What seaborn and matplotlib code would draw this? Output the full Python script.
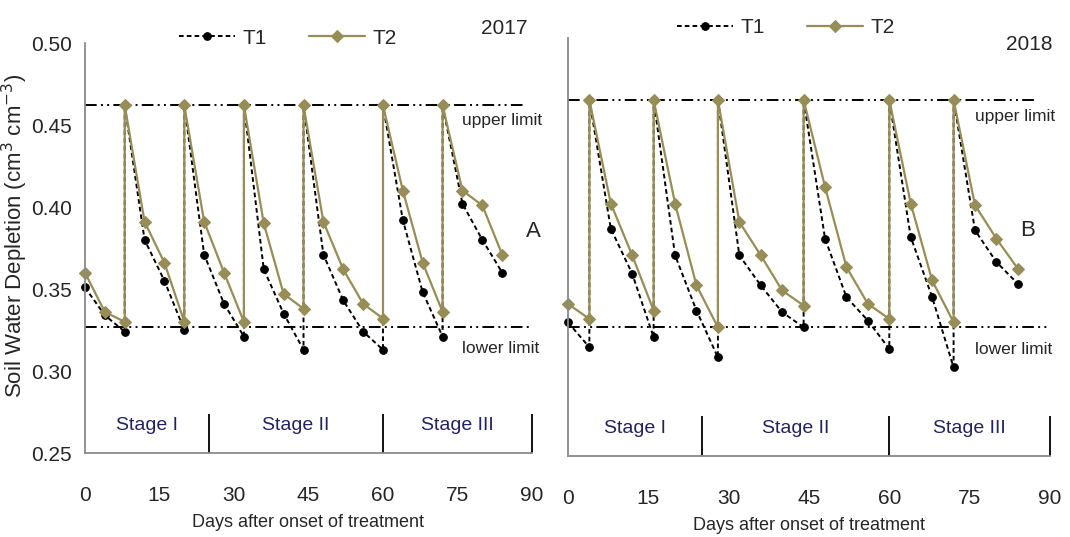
"""
Soil water depletion under two irrigation treatments, 2017 and 2018.
"""

import matplotlib
matplotlib.use('Agg')
import matplotlib.pyplot as plt
import seaborn as sns
import pandas as pd
from matplotlib.ticker import MultipleLocator

# 2017: repeated days are irrigation events (jump up to the upper limit)
days_2017 = [0, 4, 8, 8, 12, 16, 20, 20, 24, 28, 32, 32, 36, 40, 44, 44,
             48, 52, 56, 60, 60, 64, 68, 72, 72, 76, 80, 84]
t1_2017 = [0.351, 0.334, 0.324, 0.462, 0.380, 0.355, 0.325, 0.462,
           0.371, 0.341, 0.321, 0.462, 0.362, 0.335, 0.313, 0.462,
           0.371, 0.343, 0.324, 0.313, 0.462, 0.392, 0.348, 0.321, 0.462,
           0.402, 0.380, 0.360]
t2_2017 = [0.360, 0.336, 0.330, 0.462, 0.391, 0.366, 0.330, 0.462,
           0.391, 0.360, 0.330, 0.462, 0.390, 0.347, 0.338, 0.462,
           0.391, 0.362, 0.341, 0.332, 0.462, 0.410, 0.366, 0.336, 0.462,
           0.410, 0.401, 0.371]

# 2018
days_2018 = [0, 4, 4, 8, 12, 16, 16, 20, 24, 28, 28, 32, 36, 40, 44, 44,
             48, 52, 56, 60, 60, 64, 68, 72, 72, 76, 80, 84]
t1_2018 = [0.330, 0.315, 0.463, 0.386, 0.359, 0.321, 0.463,
           0.370, 0.337, 0.309, 0.463, 0.370, 0.352, 0.336, 0.327, 0.463,
           0.380, 0.345, 0.331, 0.314, 0.463, 0.381, 0.345, 0.303, 0.463,
           0.385, 0.366, 0.353]
t2_2018 = [0.341, 0.332, 0.463, 0.401, 0.370, 0.337, 0.463,
           0.401, 0.352, 0.327, 0.463, 0.390, 0.370, 0.349, 0.340, 0.463,
           0.411, 0.363, 0.341, 0.332, 0.463, 0.401, 0.355, 0.330, 0.463,
           0.400, 0.380, 0.362]

years = ['2017', '2018']
panel_letters = ['A', 'B']
upper_limits = [0.462, 0.463]
lower_limits = [0.327, 0.327]

stage_names = ['Stage I', 'Stage II', 'Stage III']
stage_bounds = [0, 25, 60, 90]
x_ticks = [0, 15, 30, 45, 60, 75, 90]
y_ticks = [0.25, 0.30, 0.35, 0.40, 0.45, 0.50]

T1_COLOR = 'black'
T2_COLOR = '#978d56'
AXIS_GRAY = '#8a8a8a'
STAGE_COLOR = '#23235e'
LIMIT_DASH = (6, 2.2, 1, 2.2, 1, 2.2)
FS = 15

sns.set_style('white')
plt.rcParams['font.family'] = ['Liberation Sans', 'DejaVu Sans']


def draw_panel(ax, days, t1, t2, year, letter, upper, lower, layout, show_ylabels):
    df = pd.DataFrame({'day': days, 'T1': t1, 'T2': t2})

    sns.lineplot(data=df, x='day', y='T1', ax=ax, estimator=None, sort=False,
                 color=T1_COLOR, lw=1.4, dashes=(2.4, 1.6), marker='o',
                 markersize=5.5, markeredgecolor=T1_COLOR, label='T1', clip_on=False)
    sns.lineplot(data=df, x='day', y='T2', ax=ax, estimator=None, sort=False,
                 color=T2_COLOR, lw=1.6, marker='D', markersize=6.5,
                 markeredgecolor=T2_COLOR, label='T2', clip_on=False)

    # limits
    ax.hlines(upper, 0, layout['upper_end'], color='black', lw=1.4,
              linestyles=[(0, LIMIT_DASH)], zorder=1)
    ax.hlines(lower, 0, layout['lower_end'], color='black', lw=1.4,
              linestyles=[(0, LIMIT_DASH)], zorder=1)
    ax.text(layout['limit_x'], 0.453, 'upper limit', fontsize=12.5, ha='left', va='center')
    ax.text(layout['limit_x'], 0.3135, 'lower limit', fontsize=12.5, ha='left', va='center')

    # growth stages
    ax.vlines(stage_bounds[1:], 0.25, 0.274, color='black', lw=1.3, clip_on=False)
    for i, name in enumerate(stage_names):
        mid = (stage_bounds[i] + stage_bounds[i + 1]) / 2
        ax.text(mid, 0.2665, name, fontsize=14, ha='center', va='center', color=STAGE_COLOR)

    ax.text(layout['year_xy'][0], layout['year_xy'][1], year, fontsize=FS,
            ha='center', va='center', clip_on=False)
    ax.text(layout['letter_xy'][0], layout['letter_xy'][1], letter, fontsize=FS + 1,
            ha='center', va='center', clip_on=False)

    ax.set_xlim(0, 90)
    ax.set_ylim(0.25, 0.50)
    ax.set_xticks(x_ticks)
    ax.xaxis.set_minor_locator(MultipleLocator(5))
    ax.set_yticks(y_ticks)
    ax.set_yticklabels([f'{v:.2f}' for v in y_ticks])
    ax.tick_params(axis='x', which='major', direction='out', length=8.5, width=1.1,
                   color=AXIS_GRAY, pad=15, labelsize=FS)
    ax.tick_params(axis='x', which='minor', direction='in', length=3.8, width=1.0,
                   color=AXIS_GRAY)
    ax.tick_params(axis='y', direction='out', length=4.5, width=1.1, color=AXIS_GRAY,
                   pad=5, labelsize=FS, labelleft=show_ylabels)

    for side in ['top', 'right']:
        ax.spines[side].set_visible(False)
    for side in ['left', 'bottom']:
        ax.spines[side].set_color(AXIS_GRAY)
        ax.spines[side].set_linewidth(1.3)

    ax.set_xlabel('Days after onset of treatment', fontsize=13, labelpad=7)
    if show_ylabels:
        ax.set_ylabel(r'Soil Water Depletion (cm$^{3}$ cm$^{-3}$)', fontsize=16)
        ax.yaxis.set_label_coords(-0.123, 0.53)
    else:
        ax.set_ylabel('')

    ax.legend(loc='center', bbox_to_anchor=layout['legend_xy'], ncol=2, frameon=False,
              fontsize=FS, handlelength=2.7, handletextpad=0.35, columnspacing=2.0)


fig = plt.figure(figsize=(10.7, 5.37), dpi=100)
ax_a = fig.add_axes([0.0794, 0.1564, 0.4178, 0.7635])
ax_b = fig.add_axes([0.5308, 0.1508, 0.4505, 0.7784])

layout_a = {'upper_end': 88.1, 'lower_end': 89.5, 'limit_x': 76.0,
            'year_xy': (84.5, 0.509), 'letter_xy': (90.2, 0.385),
            'legend_xy': (0.454, 1.012)}
layout_b = {'upper_end': 87.1, 'lower_end': 90.0, 'limit_x': 76.0,
            'year_xy': (86.2, 0.496), 'letter_xy': (85.8, 0.385),
            'legend_xy': (0.452, 1.024)}

draw_panel(ax_a, days_2017, t1_2017, t2_2017, years[0], panel_letters[0],
           upper_limits[0], lower_limits[0], layout_a, True)
draw_panel(ax_b, days_2018, t1_2018, t2_2018, years[1], panel_letters[1],
           upper_limits[1], lower_limits[1], layout_b, False)

fig.savefig('out.png', dpi=100)
plt.close(fig)
